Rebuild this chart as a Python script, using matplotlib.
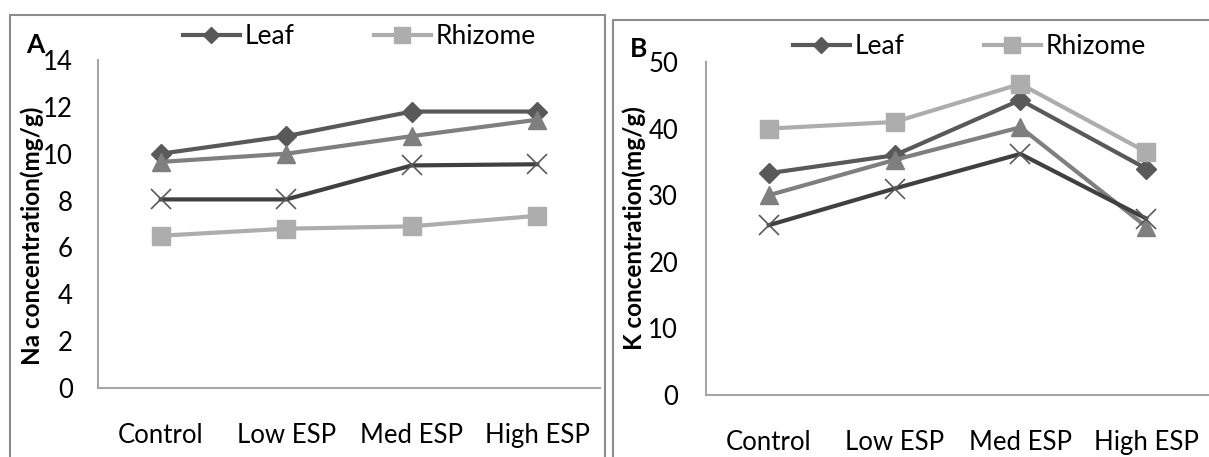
import matplotlib.pyplot as plt
from matplotlib.patches import Rectangle

plt.rcParams['font.family'] = ['Lato', 'DejaVu Sans']

categories = ["Control", "Low ESP", "Med ESP", "High ESP"]

# Na concentration (mg/g)
na_leaf = [10.0, 10.75, 11.8, 11.8]
na_tri = [9.65, 10.0, 10.75, 11.45]
na_x = [8.05, 8.05, 9.5, 9.55]
na_rhizome = [6.5, 6.8, 6.9, 7.35]

# K concentration (mg/g)
k_leaf = [33.3, 36.0, 44.3, 34.0]
k_tri = [30.0, 35.3, 40.2, 25.3]
k_x = [25.5, 31.0, 36.2, 26.5]
k_rhizome = [40.0, 41.0, 46.7, 36.5]

W, H = 1209, 457
fig = plt.figure(figsize=(W / 100, H / 100), dpi=100)

def fx(px):
    return px / W

def fy(py):
    return 1 - py / H

# panel frames
fig.add_artist(Rectangle((fx(10), fy(470)), fx(595), fy(15) - fy(470),
                         transform=fig.transFigure, fill=False, ec="#8c8c8c", lw=1.5))
fig.add_artist(Rectangle((fx(613), fy(470)), fx(620), fy(20) - fy(470),
                         transform=fig.transFigure, fill=False, ec="#8c8c8c", lw=1.5))


def draw(ax, leaf, tri, xs, rhiz, ymax, step, ylabel, lab_xy, ypad):
    x = range(len(categories))
    l1, = ax.plot(x, leaf, color="#595959", lw=3, marker="D", ms=10, label="Leaf")
    l2, = ax.plot(x, rhiz, color="#adadad", lw=3, marker="s", ms=13, label="Rhizome")
    ax.plot(x, tri, color="#7f7f7f", lw=3, marker="^", ms=13)
    ax.plot(x, xs, color="#404040", lw=3, marker="x", ms=14, mew=1.2, mec="#5a5a5a")
    ax.set_xlim(-0.5, 3.5)
    ax.set_ylim(0, ymax)
    ax.set_yticks(range(0, ymax + 1, step))
    ax.set_xticks(list(x))
    ax.set_xticklabels(categories)
    ax.tick_params(length=0, labelsize=18.5)
    ax.tick_params(axis="x", pad=25)
    ax.tick_params(axis="y", pad=ypad)
    for s in ["top", "right"]:
        ax.spines[s].set_visible(False)
    for s in ["left", "bottom"]:
        ax.spines[s].set_color("#a6a6a6")
        ax.spines[s].set_linewidth(1.5)
    ax.set_ylabel(ylabel, fontsize=17.5, fontweight="bold")
    ax.yaxis.set_label_coords(*lab_xy)
    return l1, l2


axA = fig.add_axes([fx(98), fy(388), fx(600) - fx(98), fy(60) - fy(388)])
hA = draw(axA, na_leaf, na_tri, na_x, na_rhizome, 14, 2, "Na concentration(mg/g)",
          (-0.108, 0.463), 18)
axB = fig.add_axes([fx(706), fy(395), fx(1209) - fx(706), fy(62) - fy(395)])
hB = draw(axB, k_leaf, k_tri, k_x, k_rhizome, 50, 10, "K concentration(mg/g)",
          (-0.119, 0.5), 20)

for h, (lx, ly) in [(hA, (183, 37)), (hB, (793, 47))]:
    fig.legend(h, ["Leaf", "Rhizome"], loc="center left", bbox_to_anchor=(fx(lx), fy(ly)),
               ncol=2, frameon=False, prop={"size": 19},
               handlelength=2.15, handletextpad=0.2,
               columnspacing=3.0, borderpad=0, borderaxespad=0, markerscale=0.85)

fig.text(fx(26), fy(45), "A", fontsize=19, fontweight="bold", va="center")
fig.text(fx(630), fy(49), "B", fontsize=19, fontweight="bold", va="center")

fig.savefig("out.png", dpi=100)
